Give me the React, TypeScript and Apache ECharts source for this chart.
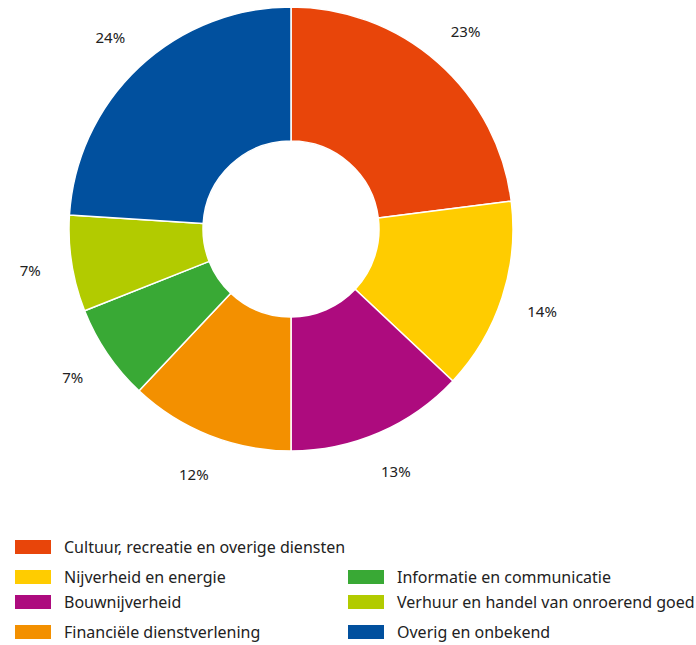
import React, { useEffect, useRef } from "react";
import * as echarts from "echarts";

const categories = [
  "Cultuur, recreatie en overige diensten",
  "Nijverheid en energie",
  "Bouwnijverheid",
  "Financiële dienstverlening",
  "Informatie en communicatie",
  "Verhuur en handel van onroerend goed",
  "Overig en onbekend",
];
const shares = [23, 14, 13, 12, 7, 7, 24];
const colors = ["#E8450A", "#FFCC00", "#AD0B7E", "#F39000", "#39A935", "#B2CB00", "#01509E"];
const leftLegend = [
  "Cultuur, recreatie en overige diensten",
  "Nijverheid en energie",
  "Bouwnijverheid",
  "Financiële dienstverlening",
];
const rightLegend = [
  "Informatie en communicatie",
  "Verhuur en handel van onroerend goed",
  "Overig en onbekend",
];

const FONT = "'Noto Sans', sans-serif";
const leftTops = [538, 568, 593, 623];
const rightTops = [568, 593, 623];

export default function App() {
  const ref = useRef<HTMLDivElement>(null);
  useEffect(() => {
    if (!ref.current) return;
    const chart = echarts.init(ref.current, undefined, { renderer: "svg" });
    const legendBase = {
      orient: "vertical",
      itemWidth: 38,
      itemHeight: 16,
      itemGap: 0,
      icon: "rect",
      selectedMode: false,
      textStyle: { fontFamily: FONT, fontSize: 16, color: "#222", padding: [0, 0, 0, 7] },
      padding: 0,
    };
    const legends = [
      ...leftLegend.map((n, i) => ({ ...legendBase, left: 13, top: leftTops[i], data: [n] })),
      ...rightLegend.map((n, i) => ({ ...legendBase, left: 346, top: rightTops[i], data: [n] })),
    ];
    chart.setOption({
      animation: false,
      color: colors,
      legend: legends,
      series: [
        {
          type: "pie",
          center: [291, 229],
          radius: [88, 222],
          startAngle: 90,
          clockwise: true,
          avoidLabelOverlap: false,
          label: { show: false },
          labelLine: { show: false },
          emphasis: { disabled: true },
          itemStyle: { borderColor: "#fff", borderWidth: 1.5 },
          data: categories.map((n, i) => ({ name: n, value: shares[i] })),
        },
        {
          type: "pie",
          center: [291, 229],
          radius: [240, 282],
          startAngle: 90,
          clockwise: true,
          silent: true,
          avoidLabelOverlap: false,
          itemStyle: { color: "rgba(0,0,0,0)" },
          emphasis: { disabled: true },
          labelLine: { show: false },
          label: {
            show: true,
            position: "inside",
            formatter: "{c}%",
            fontFamily: FONT,
            fontSize: 15,
            color: "#222",
          },
          data: categories.map((n, i) => ({ name: n + " ", value: shares[i] })),
        },
      ],
    });
    return () => chart.dispose();
  }, []);
  return (
    <div
      ref={ref}
      style={{ position: "fixed", left: 0, top: 0, width: 696, height: 645, background: "#fff" }}
    />
  );
}
